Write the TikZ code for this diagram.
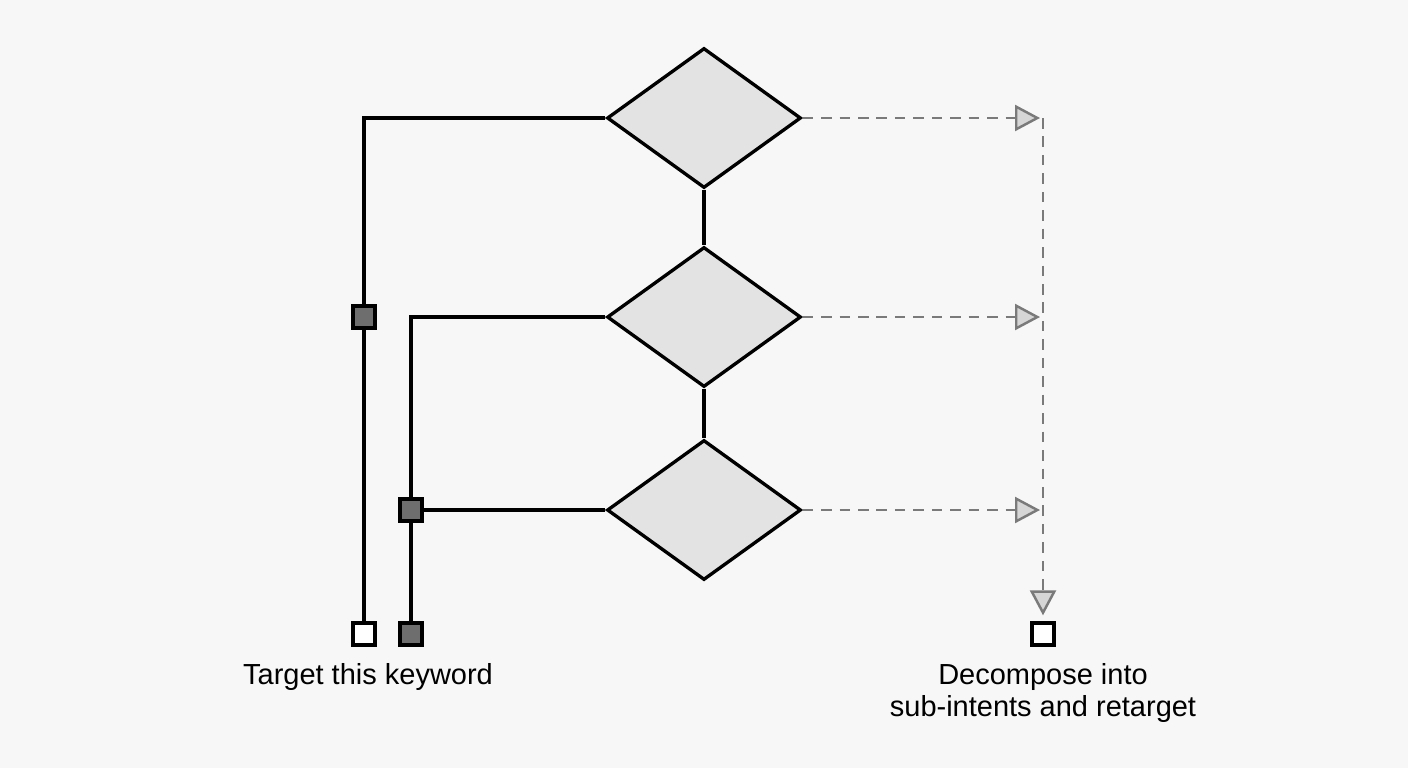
\documentclass[tikz,border=0pt]{standalone}
\usepackage{fontspec}
\setmainfont{Liberation Sans}
\usetikzlibrary{arrows.meta,positioning,shapes.geometric}
\definecolor{bgpaper}{HTML}{F7F7F7}
\definecolor{dmdfill}{HTML}{E3E3E3}
\definecolor{tipfill}{HTML}{D6D6D6}
\definecolor{keyfill}{HTML}{6E6E6E}
\definecolor{dashgray}{HTML}{7A7A7A}

\begin{document}
\begin{tikzpicture}[
  x=0.02cm,y=-0.02cm,
  font=\fontsize{16.5}{18.5}\selectfont,
  decision/.style={draw,diamond,fill=dmdfill,line width=1.9pt,inner sep=0pt,aspect=1.39,minimum width=3.88cm,minimum height=2.8cm},
  link/.style={draw,line width=1.9pt},
  dashlink/.style={draw=dashgray,line width=1.4pt,dash pattern=on 6pt off 4.5pt,
    -{Triangle[open,fill=tipfill,length=0.5cm,width=0.52cm,line width=1.4pt]}},
  keysq/.style={draw,fill=keyfill,line width=1.9pt,minimum size=0.44cm,inner sep=0pt},
  outsq/.style={draw,fill=white,line width=1.9pt,minimum size=0.44cm,inner sep=0pt},
  label/.style={align=center,inner sep=0pt}
]
\useasboundingbox[fill=bgpaper] (0,0) rectangle (1408,768);

% decisions
\node[decision] (d1) at (704,118) {};
\node[decision] (d2) at (704,317) {};
\node[decision] (d3) at (704,510) {};
\draw[link] (d1) -- (d2);
\draw[link] (d2) -- (d3);

% left branch
\node[outsq] (target) at (364,634) {};
\node[keysq] (k1) at (364,317) {};
\node[keysq] (k2) at (411,510) {};
\node[keysq] (k3) at (411,634) {};
\draw[link] (d1.west) -| (target.north);
\draw[link] (d2.west) -| (k2.north);
\draw[link] (d3.west) -- (k2.east);
\draw[link] (k2.south) -- (k3.north);
\node[keysq] at (k1) {};

% right branch
\coordinate (r1) at (1043,118);
\coordinate (r2) at (1043,317);
\coordinate (r3) at (1043,510);
\node[outsq] (split) at (1043,634) {};
\draw[dashlink,shorten >=0.06cm] (d1.east) -- (r1);
\draw[dashlink,shorten >=0.06cm] (d2.east) -- (r2);
\draw[dashlink,shorten >=0.06cm] (d3.east) -- (r3);
\draw[dashlink,shorten >=0.12cm] (r1) -- (split.north);

% labels
\node[label] (lt) at (368,677) {Target this keyword};
\node[label] (ls) at (1043,693) {Decompose into\\sub-intents and retarget};
\end{tikzpicture}
\end{document}
